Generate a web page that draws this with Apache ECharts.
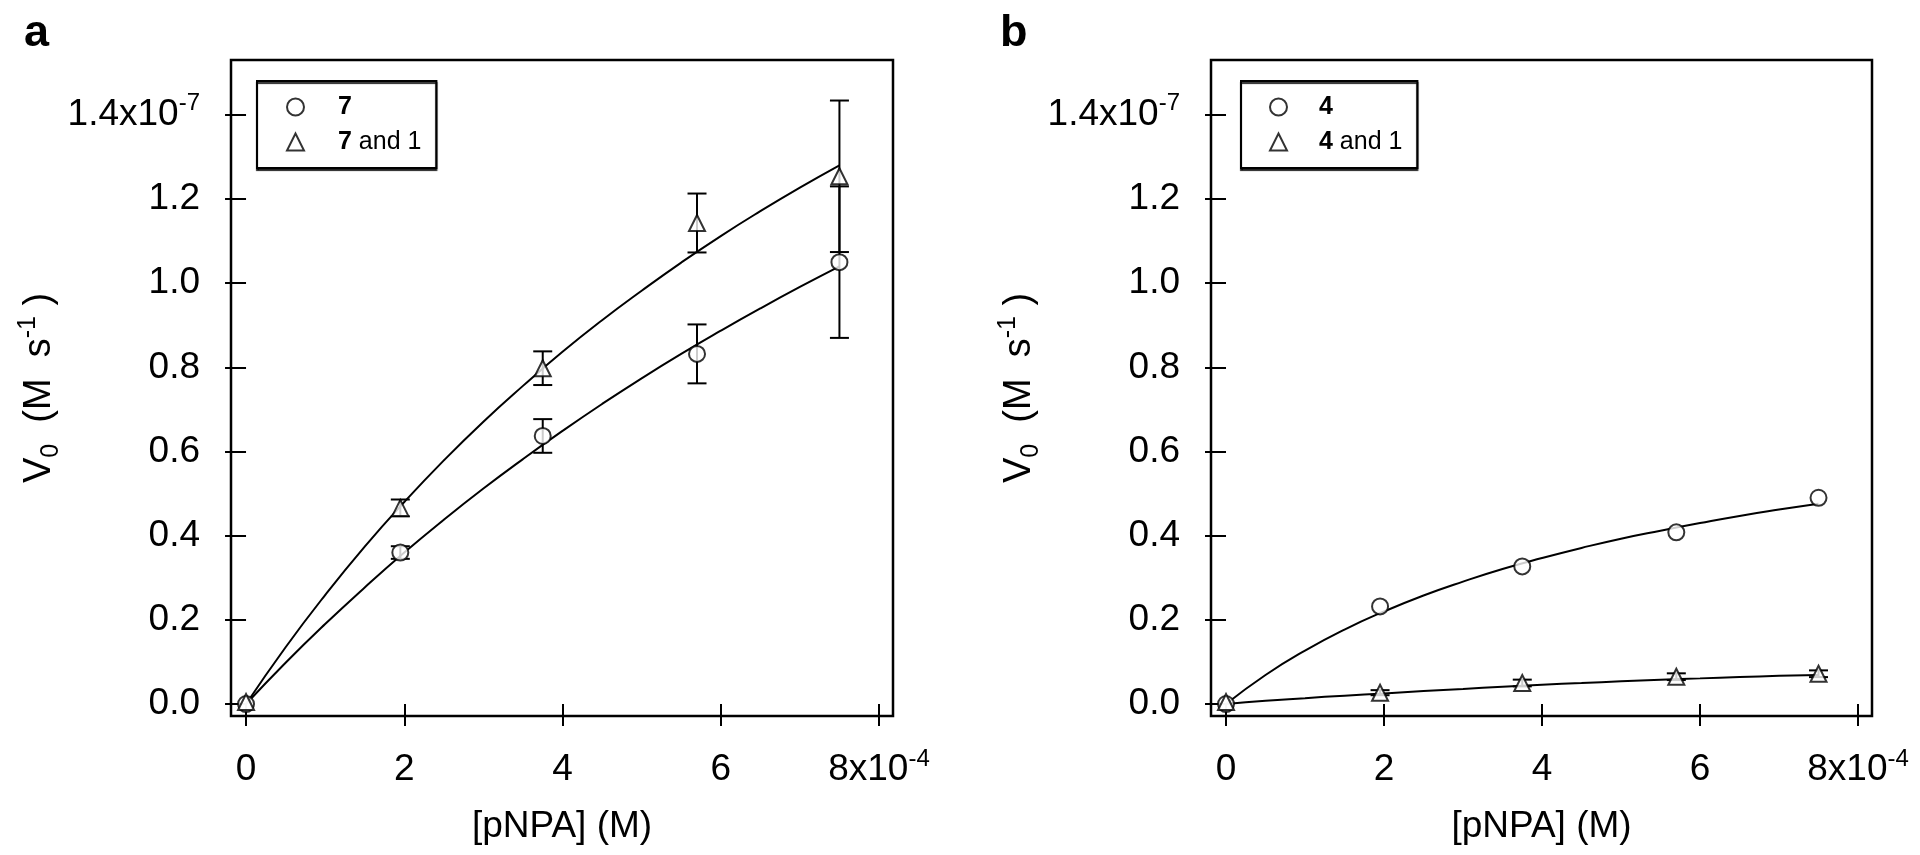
<!DOCTYPE html>
<html><head><meta charset="utf-8">
<script src="https://cdn.jsdelivr.net/npm/echarts@6/dist/echarts.min.js"></script>
<style>html,body{margin:0;padding:0;background:#fff}#c{width:1920px;height:855px}</style>
</head><body><div id="c"></div>
<script>
// x in units of 1e-4 M, y in units of 1e-7 M s^-1
const xConc = [0, 1.95, 3.75, 5.7, 7.5];
const v7   = [0.0, 0.360, 0.637, 0.832, 1.050];
const e7   = [0.0, 0.015, 0.040, 0.070, 0.180];
const v71  = [0.005, 0.466, 0.798, 1.143, 1.254];
const e71  = [0.0, 0.020, 0.040, 0.070, 0.180];
const v4   = [0.0, 0.232, 0.327, 0.408, 0.490];
const v41  = [0.005, 0.027, 0.050, 0.065, 0.072];
const e41  = [0.0, 0.006, 0.008, 0.008, 0.008];

// fitted curves
const fitX  = [0, 0.5, 1, 1.5, 2, 2.5, 3, 3.5, 4, 4.5, 5, 5.5, 6, 6.5, 7, 7.5];
const fit7  = [0, 0.098, 0.190, 0.277, 0.360, 0.438, 0.512, 0.582, 0.649, 0.713, 0.774, 0.832, 0.887, 0.940, 0.991, 1.040];
const fit71 = [0, 0.135, 0.259, 0.374, 0.480, 0.579, 0.671, 0.756, 0.837, 0.912, 0.982, 1.049, 1.112, 1.171, 1.227, 1.280];
const fit4  = [0, 0.069, 0.127, 0.177, 0.220, 0.258, 0.291, 0.321, 0.347, 0.371, 0.393, 0.412, 0.430, 0.447, 0.462, 0.476];
const fit41 = [0, 0.008, 0.014, 0.020, 0.025, 0.031, 0.036, 0.041, 0.046, 0.050, 0.054, 0.058, 0.061, 0.064, 0.067, 0.069];

const xTicks = [0, 2, 4, 6, 8];
const yTicks = [0, 0.2, 0.4, 0.6, 0.8, 1.0, 1.2, 1.4];
const xExp = '-4';
const yExp = '-7';

const FONT = 'Liberation Sans';
const richTick = {
  m: {fontSize: 37, lineHeight: 46, fontFamily: FONT, color: '#000'},
  s: {fontSize: 24, lineHeight: 20, verticalAlign: 'top', fontFamily: FONT, color: '#000'},
  b: {fontSize: 24, lineHeight: 20, verticalAlign: 'bottom', fontFamily: FONT, color: '#000'}
};
const richName = {
  m: {fontSize: 38, lineHeight: 48, fontFamily: FONT, color: '#000'},
  s: {fontSize: 25, lineHeight: 18, verticalAlign: 'top', fontFamily: FONT, color: '#000'},
  b: {fontSize: 25, lineHeight: 20, verticalAlign: 'bottom', fontFamily: FONT, color: '#000'}
};

function xFmt(v) {
  const last = xTicks[xTicks.length - 1];
  return v === last ? '{m|' + v + 'x10}{s|' + xExp + '}' : '{m|' + v + '}';
}
function yFmt(v) {
  const last = yTicks[yTicks.length - 1];
  return Math.abs(v - last) < 1e-9 ? '{m|' + v.toFixed(1) + 'x10}{s|' + yExp + '}' : '{m|' + v.toFixed(1) + '}';
}

function pairs(xs, ys) { return xs.map((x, i) => [x, ys[i]]); }

function errSeries(name, ys, es, g) {
  const d = [];
  xConc.forEach((x, i) => { if (es[i] > 0) d.push([x, ys[i] - es[i], ys[i] + es[i]]); });
  return {
    type: 'custom', name: name, xAxisIndex: g, yAxisIndex: g, silent: true, z: 3,
    data: d, encode: {x: 0, y: [1, 2]},
    renderItem: function (params, api) {
      const x = api.value(0);
      const lo = api.coord([x, api.value(1)]);
      const hi = api.coord([x, api.value(2)]);
      const hw = 9.5;
      const st = {stroke: '#000', lineWidth: 2};
      return {type: 'group', children: [
        {type: 'line', shape: {x1: lo[0], y1: lo[1], x2: hi[0], y2: hi[1]}, style: st},
        {type: 'line', shape: {x1: lo[0] - hw, y1: lo[1], x2: lo[0] + hw, y2: lo[1]}, style: st},
        {type: 'line', shape: {x1: hi[0] - hw, y1: hi[1], x2: hi[0] + hw, y2: hi[1]}, style: st}
      ]};
    }
  };
}
function fitSeries(name, ys, g) {
  return {type: 'line', name: name, xAxisIndex: g, yAxisIndex: g, data: pairs(fitX, ys), smooth: true,
    showSymbol: false, symbol: 'none', silent: true, z: 2, lineStyle: {color: '#000', width: 2}};
}
function ptSeries(name, ys, sym, g) {
  return {type: 'scatter', name: name, xAxisIndex: g, yAxisIndex: g, data: pairs(xConc, ys), symbol: sym,
    symbolSize: 16, z: 4, itemStyle: {color: '#000', borderColor: '#000', borderWidth: 1.5}};
}

function xAxisCfg(g) {
  return {
    gridIndex: g, type: 'value', min: -0.19, max: 8.177,
    axisLine: {show: false}, splitLine: {show: false},
    axisTick: {show: true, inside: false, length: 22, lineStyle: {color: '#000', width: 2}, customValues: xTicks},
    axisLabel: {customValues: xTicks, margin: 31, formatter: xFmt, rich: richTick},
    name: '[pNPA] (M)', nameLocation: 'middle', nameGap: 88,
    nameTextStyle: {fontSize: 37, lineHeight: 46, fontFamily: FONT, color: '#000'}
  };
}
function yAxisCfg(g) {
  return {
    gridIndex: g, type: 'value', min: -0.0284, max: 1.5303,
    axisLine: {show: false}, splitLine: {show: false},
    axisTick: {show: true, inside: false, length: 21, lineStyle: {color: '#000', width: 2}, customValues: yTicks},
    axisLabel: {customValues: yTicks, margin: 31, formatter: yFmt, rich: richTick},
    name: '{m|V}{b|0}{m|  (M  s}{s|-1}{m| )}', nameLocation: 'middle', nameGap: 146,
    nameTextStyle: {fontSize: 38, lineHeight: 48, fontFamily: FONT, color: '#000', rich: richName}
  };
}
function legendCfg(names, left, padL, spW) {
  return {
    data: [{name: names[0], icon: 'emptyCircle'}, {name: names[1], icon: 'emptyTriangle'}],
    left: left, top: 81, orient: 'vertical', itemWidth: 17, itemHeight: 17, itemGap: 9,
    symbolKeepAspect: true,
    padding: [13, 15, 13, padL], borderColor: '#000', borderWidth: 2, backgroundColor: '#fff',
    shadowColor: 'rgba(0,0,0,0.85)', shadowOffsetY: 2, shadowBlur: 1,
    selectedMode: false,
    itemStyle: {color: '#000', borderColor: '#000', borderWidth: 1.5},
    textStyle: {fontSize: 25, lineHeight: 26, color: '#000', fontFamily: FONT,
      rich: {sp: {width: spW, fontSize: 25},
             bb: {fontSize: 25, fontWeight: 'bold', fontFamily: FONT, color: '#000'},
             nn: {fontSize: 25, fontFamily: FONT, color: '#000'}}},
    formatter: function (name) {
      const parts = name.split(' ');
      return '{sp| }{bb|' + parts[0] + '}' + (parts.length > 1 ? '{nn| ' + parts.slice(1).join(' ') + '}' : '');
    }
  };
}

const chart = echarts.init(document.getElementById('c'), null, {renderer: 'canvas'});
chart.setOption({
  animation: false,
  backgroundColor: '#fff',
  grid: [
    {left: 231, top: 60, width: 662, height: 658, show: true, borderColor: '#000', borderWidth: 2.5, backgroundColor: 'transparent'},
    {left: 1211, top: 60, width: 661, height: 658, show: true, borderColor: '#000', borderWidth: 2.5, backgroundColor: 'transparent'}
  ],
  xAxis: [xAxisCfg(0), xAxisCfg(1)],
  yAxis: [yAxisCfg(0), yAxisCfg(1)],
  legend: [legendCfg(['7', '7 and 1'], 257, 29, 29), legendCfg(['4', '4 and 1'], 1241, 28, 27)],
  graphic: [
    {type: 'text', left: 24, top: 11, style: {text: 'a', font: 'bold 45px "Liberation Sans"', fill: '#000'}},
    {type: 'text', left: 1000, top: 11, style: {text: 'b', font: 'bold 45px "Liberation Sans"', fill: '#000'}}
  ],
  series: [
    fitSeries('fit 7', fit7, 0),
    fitSeries('fit 7 and 1', fit71, 0),
    errSeries('err 7', v7, e7, 0),
    errSeries('err 7 and 1', v71, e71, 0),
    ptSeries('7', v7, 'emptyCircle', 0),
    ptSeries('7 and 1', v71, 'emptyTriangle', 0),
    fitSeries('fit 4', fit4, 1),
    fitSeries('fit 4 and 1', fit41, 1),
    errSeries('err 4 and 1', v41, e41, 1),
    ptSeries('4', v4, 'emptyCircle', 1),
    ptSeries('4 and 1', v41, 'emptyTriangle', 1)
  ]
});
</script></body></html>
